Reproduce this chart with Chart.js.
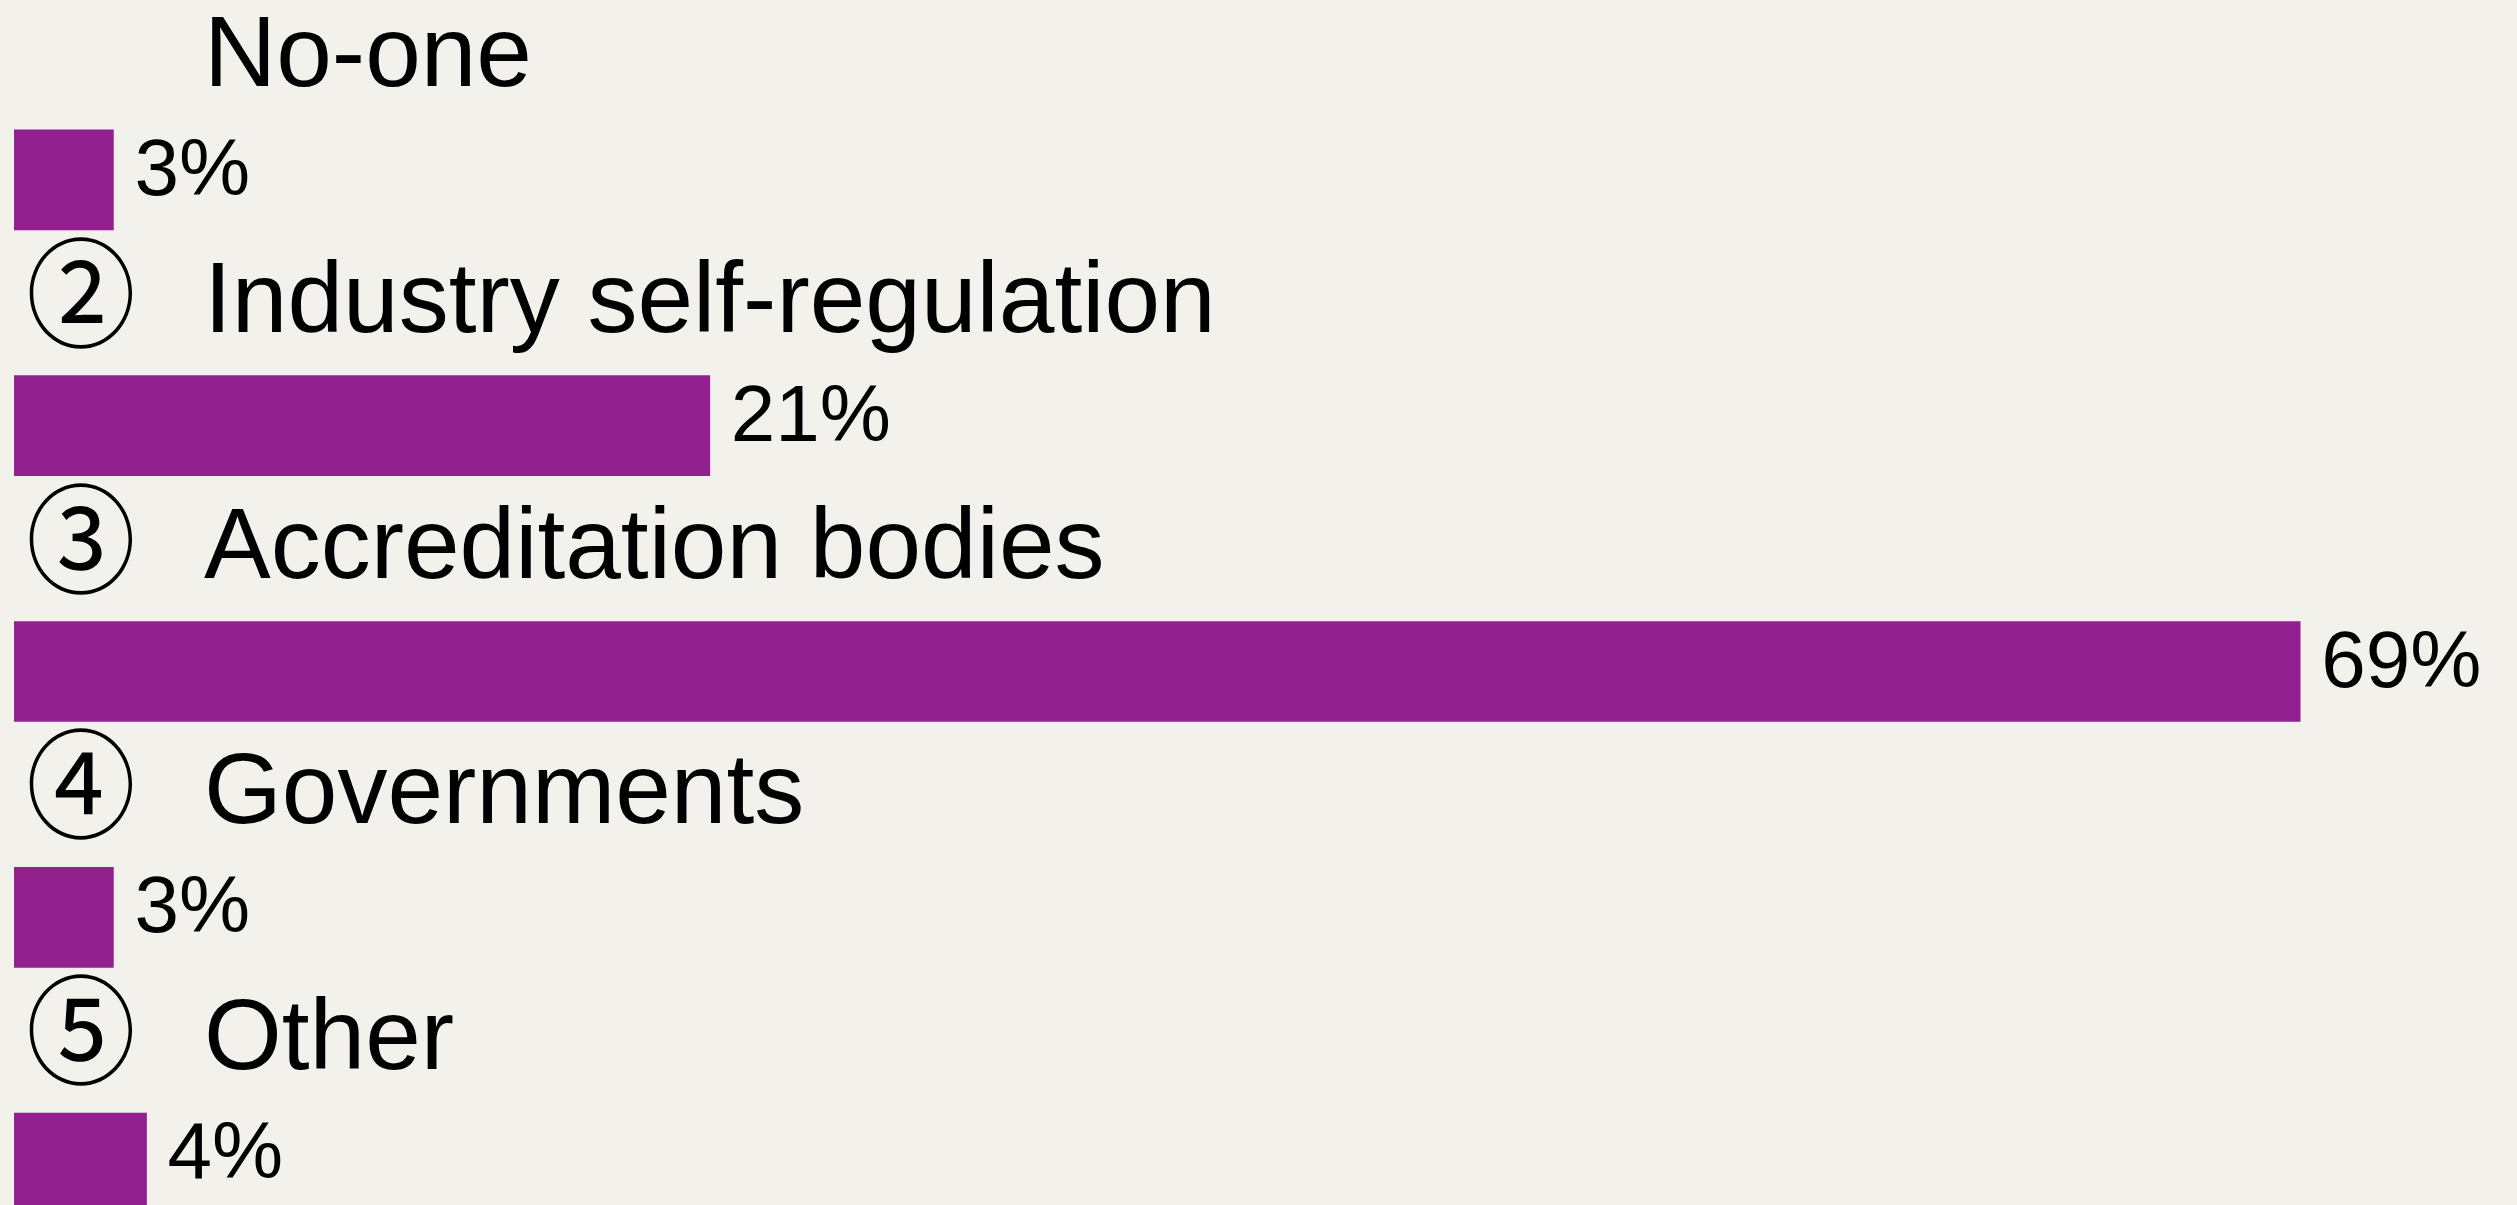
<!DOCTYPE html>
<html>
<head>
<meta charset="utf-8">
<script src="https://cdn.jsdelivr.net/npm/chart.js@4.4.1/dist/chart.umd.min.js"></script>
<style>
  html, body { margin: 0; padding: 0; background: #f3f1ec; overflow: hidden; }
  #wrap { position: relative; width: 2517px; height: 1290px; }
</style>
</head>
<body>
<div id="wrap"><canvas id="barChart"></canvas></div>
<script>
// survey answers, top to bottom
const categories = ["No-one", "Industry self-regulation", "Accreditation bodies", "Governments", "Other"];
const markers = ["", "\u2461", "\u2462", "\u2463", "\u2464"];
const shares = [3, 21, 69, 3, 4];
const shareLabels = ["3%", "21%", "69%", "3%", "4%"];

const barColor = "#92208f";
const textFont = "'Liberation Sans', Arial, Helvetica, sans-serif";

// draws the question label above each bar and the percentage after it
const rowLabels = {
  id: "rowLabels",
  afterDatasetsDraw(chart) {
    const ctx = chart.ctx;
    const meta = chart.getDatasetMeta(0);
    ctx.save();
    ctx.fillStyle = "#000";
    ctx.textAlign = "left";
    ctx.textBaseline = "alphabetic";
    meta.data.forEach((bar, i) => {
      const top = bar.y - bar.height / 2;
      const base = top - 44;
      if (markers[i]) {
        // slightly taller than wide, like the slide's circled numbers
        ctx.save();
        ctx.font = "112px 'Noto Sans CJK JP', 'DejaVu Sans', sans-serif";
        ctx.translate(26, base + 6);
        ctx.scale(0.98, 1.06);
        ctx.fillText(markers[i], 0, 0);
        ctx.restore();
      }
      ctx.font = "100px " + textFont;
      ctx.fillText(categories[i], 204, base);

      ctx.font = "80px " + textFont;
      ctx.fillText(shareLabels[i], bar.x + 21, bar.y + 15);
    });
    ctx.restore();
  }
};

const ctx = document.getElementById("barChart");
new Chart(ctx, {
  type: "bar",
  data: {
    labels: categories,
    datasets: [{
      data: shares,
      backgroundColor: barColor,
      borderWidth: 0,
      barThickness: 100
    }]
  },
  options: {
    indexAxis: "y",
    responsive: true,
    maintainAspectRatio: false,
    animation: false,
    layout: { padding: { top: 57, bottom: 4, left: 14, right: 18 } },
    plugins: {
      legend: { display: false },
      tooltip: { enabled: false }
    },
    scales: {
      x: { display: false, min: 0, max: 75 },
      y: { display: false }
    }
  },
  plugins: [rowLabels]
});
</script>
</body>
</html>
